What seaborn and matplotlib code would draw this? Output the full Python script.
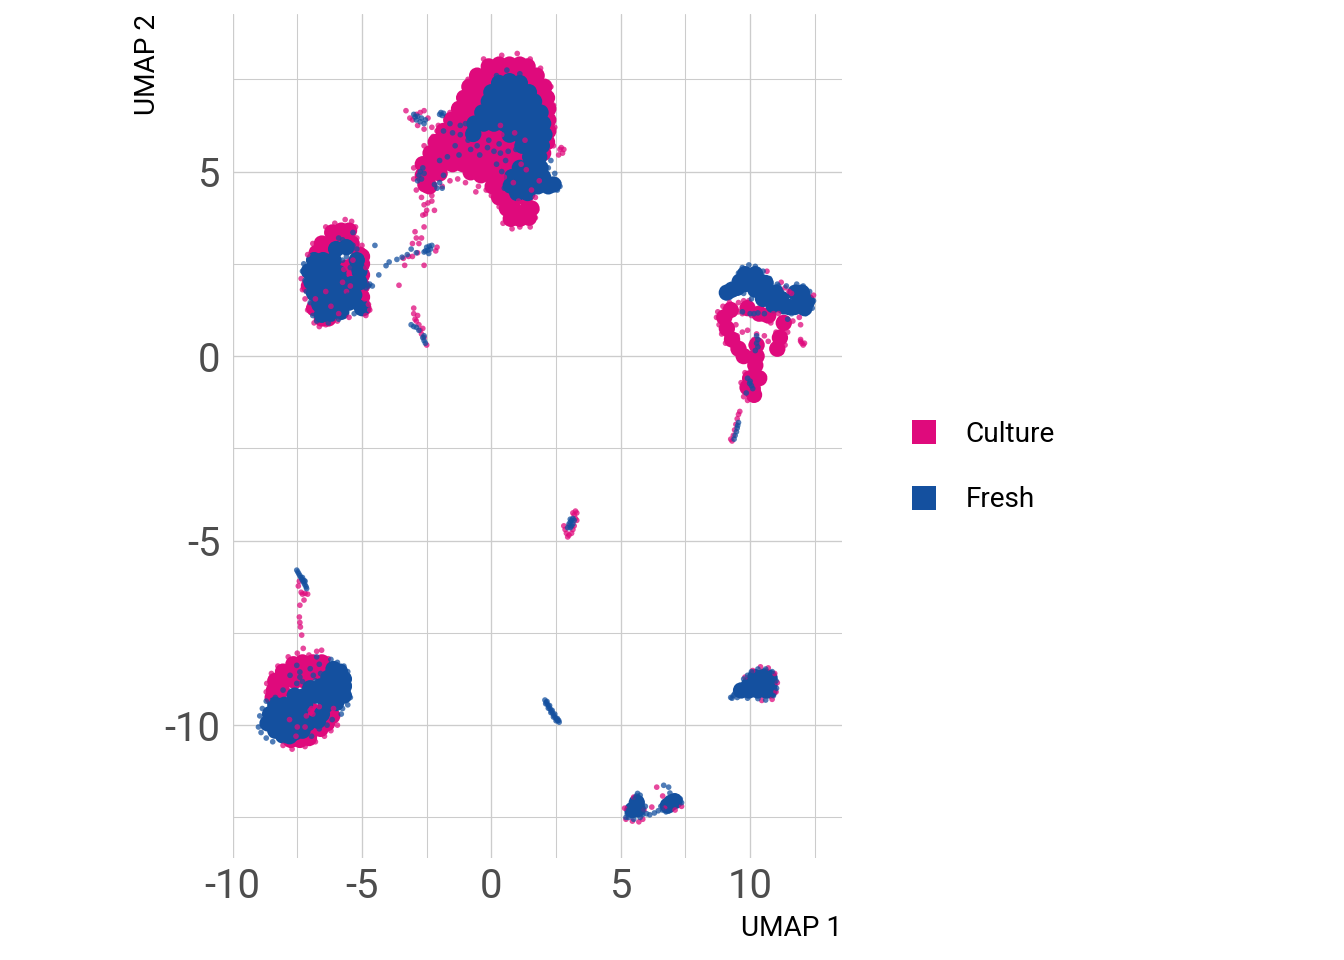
import matplotlib
matplotlib.use("Agg")
import matplotlib.pyplot as plt
from matplotlib.lines import Line2D
import pandas as pd
import seaborn as sns

# Values estimated by eye from the reference. Dense regions are summarised by the "core" points.
culture_core = [
 # main cluster
 (-0.1,7.85),(0.3,7.9),(0.7,7.9),(1.1,7.9),(1.4,7.85),
 (-0.55,7.6),(-0.2,7.6),(0.2,7.6),(0.6,7.6),(1.0,7.6),(1.4,7.6),(1.75,7.6),
 (-0.85,7.3),(-0.5,7.3),(-0.1,7.3),(0.3,7.3),(0.7,7.3),(1.1,7.3),(1.5,7.3),(1.9,7.3),(2.05,7.3),
 (-1.05,7.0),(-0.7,7.0),(-0.3,7.0),(0.1,7.0),(1.7,7.0),(2.05,7.0),(2.15,7.0),
 (-1.25,6.7),(-0.9,6.7),(-0.5,6.7),(-0.1,6.7),(1.9,6.7),(2.2,6.7),
 (-1.55,6.4),(-1.2,6.4),(-0.8,6.4),(-0.4,6.4),(2.2,6.4),
 (-1.85,6.1),(-1.5,6.1),(-1.1,6.1),(-0.7,6.1),(-0.3,6.1),(0.1,6.05),(0.4,6.05),(2.2,6.1),
 (-2.15,5.8),(-1.8,5.8),(-1.4,5.8),(-1.0,5.8),(-0.6,5.8),(-0.2,5.8),(0.2,5.8),(0.6,5.8),(1.0,5.8),(2.15,5.8),
 (-2.35,5.5),(-2.0,5.5),(-1.6,5.5),(-1.2,5.5),(-0.8,5.5),(-0.4,5.5),(0.0,5.5),(0.4,5.5),(0.8,5.5),(1.2,5.5),(2.0,5.5),
 (-2.65,5.2),(-2.3,5.2),(-1.9,5.2),(-1.5,5.2),(-1.1,5.2),(-0.7,5.2),(-0.3,5.2),(0.1,5.2),(0.5,5.2),(0.9,5.2),(1.3,5.2),
 (-2.65,4.9),(-2.4,4.9),(-2.0,4.95),(-0.8,4.98),(-0.4,4.9),(0.0,4.9),(0.4,4.9),(0.8,4.9),(1.2,4.9),
 (-2.55,4.65),(-2.4,4.6),(0.05,4.6),(0.4,4.6),(0.8,4.6),(1.2,4.6),
 (0.3,4.3),(0.6,4.3),(0.9,4.3),(1.3,4.3),
 (0.6,4.0),(0.85,4.0),(1.4,4.0),(1.55,4.0),
 (0.75,3.72),(1.1,3.72),(1.45,3.75),
 # left cluster
 (-6.15,3.35),(-5.8,3.4),(-5.5,3.4),
 (-6.55,3.05),(-6.2,3.05),(-5.8,3.1),(-5.4,3.05),
 (-6.75,2.8),(-6.4,2.8),(-5.1,2.75),(-5.0,2.7),
 (-5.6,2.4),(-5.3,2.5),(-5.0,2.5),(-5.4,2.2),(-5.2,2.2),(-5.0,2.2),
 (-7.05,1.9),(-5.2,1.9),(-5.0,1.9),(-5.0,1.6),(-5.0,1.4),(-4.95,1.3),
 (-6.85,1.3),(-6.55,1.02),(-6.3,1.02),
 # right cluster
 (9.0,1.05),(9.1,0.75),(9.3,0.45),(9.55,0.2),(9.75,0.0),(9.25,1.25),
 (10.25,0.3),(10.25,0.0),(10.2,-0.25),(11.05,0.2),(11.15,0.5),(11.3,0.9),
 (10.0,-0.6),(10.35,-0.6),(10.1,-0.9),(10.15,-1.05),(9.9,-0.85),
 (10.35,1.15),(10.7,1.1),(9.9,1.3),
 # bottom-left cluster
 (-7.65,-8.35),(-7.3,-8.3),(-6.9,-8.3),(-6.55,-8.3),
 (-8.05,-8.55),(-7.7,-8.55),(-7.3,-8.55),(-6.9,-8.55),(-6.6,-8.6),
 (-8.35,-8.8),(-8.0,-8.8),(-7.6,-8.8),(-7.2,-8.8),
 (-8.4,-9.05),(-8.1,-9.05),(-8.45,-9.25),
 (-6.95,-9.6),
 (-6.15,-9.75),(-6.35,-9.95),(-6.6,-10.1),(-7.0,-10.2),
 (-7.75,-10.4),(-7.4,-10.4),(-7.05,-10.35),
]

fresh_core = [
 # main cluster
 (0.3,7.4),(0.7,7.45),(1.1,7.4),
 (0.0,7.15),(0.4,7.15),(0.8,7.2),(1.2,7.15),(1.45,7.15),
 (-0.1,6.9),(0.2,6.9),(0.6,6.9),(1.0,6.9),(1.4,6.9),(1.65,6.9),
 (-0.35,6.6),(0.0,6.6),(0.4,6.6),(0.8,6.6),(1.2,6.6),(1.6,6.6),(1.9,6.6),
 (-0.65,6.3),(-0.3,6.3),(0.1,6.3),(0.5,6.3),(0.9,6.3),(1.3,6.3),(1.7,6.3),(2.0,6.3),
 (-0.7,6.02),(0.7,6.0),(1.1,6.0),(1.5,6.0),(1.9,6.0),(2.05,6.0),
 (1.2,5.7),(1.6,5.7),(1.95,5.7),(1.5,5.4),(1.85,5.4),
 (1.1,5.1),(1.5,5.1),(1.9,5.1),
 (0.8,4.85),(1.2,4.85),(1.6,4.85),(2.0,4.85),
 (0.75,4.62),(1.0,4.6),(1.4,4.6),(1.8,4.6),(2.2,4.6),(2.4,4.65),
 (1.0,4.42),(1.4,4.42),
 # left cluster
 (-6.0,2.9),(-5.6,2.95),
 (-6.85,2.6),(-6.5,2.6),(-6.1,2.6),(-5.2,2.6),
 (-7.05,2.3),(-6.7,2.3),(-6.3,2.3),(-5.9,2.25),(-5.1,2.3),
 (-6.95,2.0),(-6.6,2.0),(-6.2,2.0),(-5.8,2.0),(-5.4,1.95),(-5.1,2.0),
 (-6.85,1.7),(-6.5,1.7),(-6.1,1.7),(-5.7,1.7),(-5.3,1.65),
 (-6.65,1.4),(-6.3,1.4),(-5.9,1.45),(-5.5,1.45),(-5.0,1.3),
 (-6.55,1.12),(-6.2,1.15),(-5.8,1.2),
 # right cluster arch
 (9.8,2.22),(10.2,2.22),
 (9.6,2.02),(10.0,2.02),(10.4,2.02),(10.6,1.98),(9.8,1.95),
 (9.1,1.72),(9.3,1.8),(9.5,1.85),(10.2,1.8),(10.6,1.8),(11.0,1.72),(11.75,1.72),(12.0,1.72),
 (10.5,1.55),(10.9,1.55),(11.2,1.55),(12.0,1.5),(12.2,1.48),
 (10.9,1.38),(11.3,1.35),(11.5,1.33),(11.7,1.33),(12.1,1.3),
 # bottom-left cluster
 (-6.1,-8.48),(-5.85,-8.55),
 (-6.3,-8.72),(-5.95,-8.72),(-5.7,-8.75),
 (-7.0,-9.0),(-6.6,-8.95),(-6.2,-8.95),(-5.85,-8.95),(-5.7,-8.95),
 (-7.6,-9.2),(-7.2,-9.2),(-6.8,-9.2),(-6.4,-9.2),(-6.0,-9.2),(-5.7,-9.2),
 (-8.35,-9.45),(-8.0,-9.45),(-7.6,-9.45),(-7.2,-9.45),(-6.4,-9.45),(-6.0,-9.4),
 (-8.55,-9.7),(-8.2,-9.7),(-7.8,-9.7),(-7.4,-9.7),(-6.55,-9.7),
 (-8.65,-9.95),(-8.3,-9.95),(-7.9,-9.95),(-7.5,-9.95),(-7.1,-9.95),(-6.7,-9.88),
 (-8.35,-10.15),(-8.0,-10.2),(-7.6,-10.2),(-7.3,-10.15),
 (-8.05,-10.28),(-7.8,-10.3),
 # lower-right cluster
 (10.2,-8.7),(10.55,-8.68),(10.75,-8.72),
 (9.95,-8.92),(10.3,-8.9),(10.6,-8.9),(10.75,-8.9),
 (9.65,-9.06),(9.95,-9.06),(10.3,-9.06),(10.6,-9.06),(10.75,-9.06),
 # bottom cluster
 (5.45,-12.3),(5.65,-12.28),(5.62,-12.1),(6.95,-12.1),(7.08,-12.06),(6.82,-12.18),
]

culture_fine = [
 # main cluster fray and holes
 (-0.9,7.5),(-1.25,7.0),(-1.6,6.6),(-2.1,6.1),(-2.6,5.7),(-3.0,5.1),(-3.0,4.8),(-2.9,4.5),
 (-0.3,8.05),(0.4,8.15),(1.0,8.2),(1.5,8.05),(1.9,7.8),(2.3,7.3),(2.4,6.8),(2.45,6.2),(2.4,5.7),
 (2.7,5.65),(2.8,5.6),(2.6,5.45),(2.75,5.5),(2.65,5.6),
 (0.4,6.0),(0.1,5.95),(0.6,5.65),(1.0,5.4),(0.9,6.05),(0.35,6.25),(-0.2,5.95),(1.3,5.85),
 (1.15,5.2),(1.35,5.05),(1.85,4.75),(0.85,4.7),(1.55,4.5),(0.5,4.85),(1.05,4.2),(1.7,4.3),
 (0.45,3.6),(0.55,3.85),(0.8,3.45),(1.1,3.5),(1.5,3.5),(1.7,3.75),(1.75,3.95),(0.3,4.05),(0.0,4.35),(-0.2,4.5),
 (-1.0,4.7),(-1.3,4.8),(-1.6,4.75),(-0.5,4.6),(-0.6,4.45),
 (-2.7,4.3),(-2.6,4.1),(-2.5,3.95),(-2.3,4.35),(-2.55,4.5),(-2.2,4.6),(-1.9,4.6),
 (-3.3,6.65),(-3.15,6.45),(-3.05,6.4),(-2.9,6.55),(-2.75,6.6),(-2.6,6.65),(-2.45,6.45),(-2.85,6.25),(-2.6,6.15),(-2.3,6.2),(-2.05,6.25),(-1.85,6.05),(-2.25,5.95),
 # bridge
 (-3.57,1.92),(-2.95,3.37),(-2.7,3.2),(-3.05,3.05),(-3.05,2.7),(-2.1,2.95),(-2.6,2.46),(-3.35,2.46),(-2.9,3.2),(-2.85,2.8),(-3.2,2.7),(-3.4,2.65),(-2.15,2.85),(-2.8,3.05),
 (-2.6,3.5),(-2.65,3.82),(-2.2,3.95),(-2.45,4.15),(-2.3,4.2),(-2.55,3.85),
 # strip under bridge
 (-3.0,1.3),(-3.0,1.15),(-2.95,1.0),(-2.9,0.95),(-2.85,1.1),(-2.8,0.85),(-2.75,0.7),(-2.7,0.6),(-2.65,0.75),(-2.6,0.5),(-2.5,0.3),
 # left cluster
 (-6.4,3.5),(-6.05,3.6),(-5.65,3.7),(-5.4,3.65),(-5.25,3.5),(-5.2,3.2),(-6.9,3.05),(-7.1,2.75),(-5.6,2.5),(-5.5,2.25),(-5.7,2.35),(-5.35,2.6),
 (-5.45,1.9),(-5.9,1.15),(-5.75,2.0),(-6.4,1.75),(-6.8,1.55),(-7.35,2.1),(-7.3,1.8),(-7.2,1.55),(-7.1,1.25),(-6.85,0.9),(-6.65,0.8),(-6.4,0.85),(-5.95,0.95),
 (-5.5,1.05),(-4.9,1.55),(-4.75,1.4),(-4.7,1.25),(-4.85,1.1),(-4.85,2.4),(-4.8,2.7),(-5.0,3.0),(-5.6,1.75),(-6.2,1.35),
 # right cluster
 (8.75,1.2),(8.7,1.05),(8.8,0.85),(8.9,0.6),(8.95,1.35),(9.05,1.2),(9.2,1.1),(9.05,0.95),(9.2,0.85),(9.0,0.75),(9.1,0.55),(9.25,0.35),(9.05,0.35),
 (9.35,0.4),(9.4,0.2),(9.55,0.15),(9.7,0.1),(9.85,0.05),(9.8,-0.1),(9.65,-0.05),(9.5,0.55),(9.45,0.85),(9.55,1.2),(9.7,1.15),(9.85,1.3),(9.95,1.5),
 (9.75,1.5),(9.55,1.45),(9.35,1.35),(9.2,1.45),(10.05,1.1),(10.3,1.15),(10.6,1.15),(10.9,1.15),(11.1,1.15),(10.5,1.0),(10.8,0.9),(11.0,0.65),(11.2,0.95),(11.25,0.6),
 (11.1,0.4),(11.0,0.25),(11.05,0.1),(11.2,0.1),(11.35,0.3),(11.45,0.65),(11.65,0.95),(11.9,1.05),(11.95,0.85),(10.25,0.6),(10.15,0.45),(10.05,0.3),(10.25,0.2),(10.3,0.0),
 (10.25,-0.2),(10.1,-0.3),(10.05,-0.45),(9.8,-0.45),(9.85,-0.65),(9.9,-0.85),(10.2,-0.6),(10.35,-0.55),(10.55,-0.55),(10.45,-0.7),(10.3,-0.85),(10.2,-1.0),(10.15,-1.15),(9.95,-1.05),(9.75,-1.1),(9.9,-1.2),
 (10.35,-0.3),(9.7,0.65),(9.9,0.7),(10.55,0.55),(10.7,0.4),(9.65,-0.72),
 (11.5,1.75),(11.35,1.85),(11.6,1.7),(11.2,2.0),(10.65,2.3),(12.45,1.65),
 (11.95,0.4),(12.0,0.35),(12.05,0.3),(12.1,0.35),(11.95,0.45),
 (9.6,-1.5),(9.55,-1.58),(9.5,-1.7),(9.45,-1.85),(9.4,-2.0),(9.35,-2.15),(9.3,-2.3),(9.25,-2.25),
 # small cluster at centre
 (3.25,-4.2),(3.2,-4.3),(3.25,-4.4),(3.0,-4.6),(2.85,-4.7),(3.0,-4.85),(2.9,-4.8),(3.2,-4.6),(3.3,-4.25),(3.15,-4.25),(3.3,-4.45),(2.8,-4.6),(3.1,-4.8),(2.95,-4.9),(3.15,-4.7),
 # strip and stem above bottom-left cluster
 (-7.42,-6.1),(-7.4,-6.75),(-7.42,-7.07),(-7.38,-7.34),(-7.33,-7.56),(-7.27,-7.92),(-7.46,-6.23),(-7.2,-6.43),(-7.1,-6.45),(-7.24,-6.61),(-7.35,-6.4),(-7.4,-7.22),(-7.3,-6.45),
 # bottom-left cluster fray
 (-6.56,-7.97),(-6.75,-8.0),(-7.05,-8.1),(-7.5,-8.05),(-7.85,-8.15),(-8.25,-8.4),(-8.5,-8.6),(-8.68,-8.87),(-8.7,-9.1),(-8.65,-9.3),(-7.0,-9.6),(-6.9,-9.7),(-6.95,-9.55),(-7.15,-9.75),(-7.5,-10.05),(-7.2,-10.05),
 (-6.3,-8.2),(-6.1,-9.55),(-5.95,-10.0),(-6.2,-10.15),(-6.45,-10.3),(-6.8,-10.45),(-7.2,-10.58),(-7.7,-10.65),(-8.05,-10.55),(-6.65,-9.5),(-7.8,-9.85),(-7.55,-10.3),
 # lower-right cluster fray
 (10.4,-8.42),(10.7,-8.45),(10.95,-8.6),(11.05,-8.85),(11.0,-9.1),(10.85,-9.3),(9.8,-8.7),(10.1,-8.52),(10.45,-9.33),
 # bottom cluster
 (6.39,-11.68),(6.62,-11.92),(6.2,-12.22),(5.2,-12.55),(5.45,-12.6),(5.7,-12.62),(5.85,-12.55),(5.15,-12.25),(7.35,-12.2),(7.1,-12.3),(6.7,-12.25),(5.9,-12.3),(5.5,-11.95),
]

fresh_fine = [
 # main cluster
 (-1.2,6.0),(-1.4,5.7),(-0.8,5.6),(-1.0,6.3),(-1.2,6.25),(-1.5,6.05),(-0.9,5.85),(-1.7,5.4),(-1.25,5.45),(-0.55,5.7),(-0.15,5.65),(0.1,5.55),(0.35,5.5),(-0.45,5.45),
 (-0.1,5.85),(0.3,5.75),(0.65,5.55),(0.95,5.6),(0.55,5.3),(0.2,5.2),(0.95,5.05),(0.4,5.0),(0.5,4.55),(2.55,4.5),(2.6,4.7),(2.65,4.6),(2.45,4.95),(2.2,5.1),(2.3,5.3),
 (0.6,7.75),(0.2,7.6),(1.1,7.65),(-2.75,5.0),(-2.8,4.9),(-2.7,4.8),(-2.85,4.75),(-2.65,5.1),(-2.6,4.95),(-2.2,4.65),(-2.1,4.55),(-2.0,4.7),(-1.9,4.55),(-2.0,5.3),(-1.85,4.9),
 # upper-left fragment
 (-3.0,6.55),(-2.85,6.5),(-2.7,6.45),(-2.55,6.4),(-2.9,6.4),(-2.75,6.35),(-2.6,6.3),(-2.95,6.48),(-2.0,6.55),(-1.95,6.6),(-1.85,6.58),(-1.9,6.52),(-1.85,6.1),(-1.6,6.3),
 # bridge
 (-4.35,2.2),(-4.07,2.45),(-3.95,2.55),(-3.65,2.62),(-3.45,2.68),(-3.25,2.75),(-3.1,2.9),(-2.9,2.8),
 (-2.55,2.85),(-2.45,2.87),(-2.35,2.9),(-2.5,2.95),(-2.4,2.98),(-2.6,2.82),(-2.3,3.0),(-2.42,2.78),
 (-4.5,3.0),
 # strip
 (-3.1,0.85),(-3.0,0.8),(-2.9,0.78),(-2.8,0.7),(-2.65,0.5),(-2.6,0.42),(-2.55,0.35),(-2.6,0.55),
 # left cluster
 (-5.9,3.2),(-5.35,3.35),(-5.45,2.95),(-5.2,2.9),(-5.75,3.15),(-5.35,3.0),(-7.3,2.3),(-7.25,2.5),(-7.2,2.05),(-7.15,1.75),(-7.0,1.45),(-6.9,1.1),(-6.75,0.95),(-6.3,0.9),(-5.9,1.0),
 (-4.6,1.9),(-4.75,1.9),(-4.85,1.85),(-4.7,1.95),(-5.3,1.15),(-5.6,2.7),(-5.45,2.4),(-5.75,2.6),(-5.55,1.65),(-5.2,1.55),
 # right cluster
 (8.95,1.65),(9.0,1.7),(9.25,1.9),(9.4,2.05),(9.55,2.25),(9.7,2.4),(9.95,2.47),(10.2,2.43),(10.5,2.3),(10.75,2.1),(11.05,1.95),(11.35,1.65),(11.1,1.9),(11.45,1.4),(11.8,1.2),
 (11.4,1.9),(11.8,1.95),(12.05,1.9),(12.3,1.75),(12.45,1.5),(12.4,1.3),(12.15,1.15),(11.6,1.15),(9.75,1.7),(9.9,1.85),(10.05,1.55),
 (9.7,1.2),(10.0,1.15),(10.15,1.15),(10.3,1.17),(10.55,1.15),(10.25,0.55),(10.3,0.45),(10.25,0.35),(10.3,0.25),(10.2,0.15),(11.45,1.0),
 (9.9,-0.6),(9.98,-0.74),(10.05,-0.8),(10.1,-0.88),(10.0,-0.68),(9.85,-1.0),
 (9.55,-1.8),(9.5,-1.95),(9.47,-2.05),(9.42,-2.15),(9.38,-2.25),(9.52,-1.88),
 # small cluster at centre
 (3.05,-4.5),(3.1,-4.45),(3.15,-4.4),(3.0,-4.55),(3.05,-4.65),(3.1,-4.6),(3.2,-4.45),(3.15,-4.55),(2.95,-4.65),(3.05,-4.42),
 # strip above bottom-left cluster
 (-7.52,-5.8),(-7.48,-5.85),(-7.44,-5.9),(-7.4,-5.95),(-7.36,-6.0),(-7.32,-6.05),(-7.28,-6.1),(-7.24,-6.15),(-7.2,-6.2),(-7.16,-6.25),(-7.14,-6.3),(-7.3,-6.0),(-7.24,-6.08),(-7.2,-6.1),
 # bottom-left cluster
 (-7.52,-8.38),(-7.0,-8.47),(-7.4,-8.56),(-7.78,-8.65),(-6.88,-8.65),(-7.52,-8.87),(-7.3,-8.82),(-6.6,-8.6),(-6.75,-8.15),(-6.65,-8.35),
 (-8.05,-9.05),(-8.35,-9.25),(-8.7,-9.35),(-8.85,-9.55),(-8.95,-9.75),(-9.0,-10.05),(-8.9,-10.2),(-8.7,-10.35),(-8.45,-10.45),(-5.45,-9.25),(-5.55,-9.45),(-5.5,-8.9),(-5.55,-8.55),(-5.7,-8.4),(-5.95,-8.3),(-6.2,-8.22),
 (-5.75,-9.55),(-5.8,-9.7),(-6.15,-9.85),(-6.35,-10.0),(-6.65,-10.1),(-6.95,-10.3),(-7.4,-8.7),(-6.8,-8.8),
 # thin diagonal strip
 (2.07,-9.32),(2.12,-9.38),(2.17,-9.44),(2.22,-9.5),(2.27,-9.56),(2.32,-9.62),(2.37,-9.68),(2.42,-9.74),(2.47,-9.79),(2.52,-9.84),(2.57,-9.88),(2.62,-9.92),
 (2.15,-9.36),(2.25,-9.47),(2.35,-9.6),(2.45,-9.7),(2.55,-9.82),(2.1,-9.42),(2.2,-9.54),(2.3,-9.66),(2.4,-9.78),(2.5,-9.88),(2.6,-9.87),
 # lower-right cluster
 (9.25,-9.25),(9.35,-9.2),(9.3,-9.27),(9.4,-9.15),(9.5,-9.25),(9.5,-9.0),(9.6,-8.95),(9.75,-8.75),(9.9,-8.65),(10.05,-8.55),(10.3,-8.48),(10.6,-8.48),(10.85,-8.55),(11.0,-8.8),(11.02,-9.0),(10.9,-9.2),(10.6,-9.32),(10.3,-9.28),(9.9,-9.27),
 # bottom cluster
 (6.66,-11.63),(6.85,-11.68),(6.9,-11.84),(5.65,-11.85),(5.6,-11.92),(5.55,-12.0),(5.75,-11.9),(5.25,-12.4),(5.2,-12.5),(5.3,-12.3),(5.3,-12.5),(5.5,-12.55),(5.75,-12.5),(5.85,-12.42),
 (6.0,-12.4),(6.12,-12.43),(6.3,-12.38),(6.45,-12.32),(6.62,-12.3),(6.75,-12.35),(6.55,-12.2),(7.3,-12.0),(7.35,-12.1),(7.2,-11.95),(7.05,-11.98),(5.95,-12.2),(5.85,-12.3),(6.85,-12.32),
]

groups = ["Culture", "Fresh"]
group_colors = ["#DF0A7C", "#14509F"]
xticks = [-10, -5, 0, 5, 10]
yticks = [-10, -5, 0, 5]
x_minor = [-7.5, -2.5, 2.5, 7.5, 12.5]
y_minor = [-12.5, -7.5, -2.5, 2.5, 7.5]

sns.set_theme(style="white")
plt.rcParams["font.family"] = ["Roboto", "DejaVu Sans"]

fig = plt.figure(figsize=(14, 10), dpi=96)
ax = fig.add_axes([232.6/1344, 1-858/960, (842-232.6)/1344, (858-14)/960])
palette = dict(zip(groups, group_colors))


def frame(points, group):
    return pd.DataFrame(points, columns=["x", "y"]).assign(group=group)


for pts, grp, size, alpha in [(culture_core, "Culture", 150, 1.0),
                              (fresh_core, "Fresh", 150, 1.0),
                              (culture_fine, "Culture", 18, 0.75),
                              (fresh_fine, "Fresh", 18, 0.75)]:
    sns.scatterplot(data=frame(pts, grp), x="x", y="y", hue="group", palette=palette,
                    s=size, alpha=alpha, linewidth=0, legend=False, ax=ax, zorder=3)

ax.set_xlim(-10, 13.55)
ax.set_ylim(-13.6, 9.27)
ax.set_xticks(xticks)
ax.set_yticks(yticks)
ax.set_xticks(x_minor, minor=True)
ax.set_yticks(y_minor, minor=True)
ax.grid(True, which="major", color="#cccccc", linewidth=1.0)
ax.grid(True, which="minor", color="#cccccc", linewidth=0.8)
ax.set_axisbelow(True)
for spine in ax.spines.values():
    spine.set_visible(False)
ax.tick_params(which="both", length=0)
ax.tick_params(axis="x", labelsize=30, labelcolor="#4d4d4d", pad=6.5)
ax.tick_params(axis="y", labelsize=30, labelcolor="#4d4d4d", pad=9)
ax.set_xticklabels(["-10", "-5", "0", "5", "10"])
ax.set_yticklabels(["-10", "-5", "0", "5"])
ax.set_xlabel("UMAP 1", loc="right", fontsize=21, color="black", labelpad=7)
ax.set_ylabel("UMAP 2", loc="top", fontsize=21, color="black", labelpad=3)

handles = [Line2D([], [], linestyle="none", marker="s", markersize=18.5, color=c,
                  markeredgewidth=0, label=g) for g, c in zip(groups, group_colors)]
fig.legend(handles=handles, loc="center left", bbox_to_anchor=(904/1344, 1-467/960),
           frameon=False, fontsize=21, labelspacing=1.39, handletextpad=0.8,
           handlelength=1.4, borderpad=0, borderaxespad=0, labelcolor="black")

fig.savefig("out.png", dpi=96)
